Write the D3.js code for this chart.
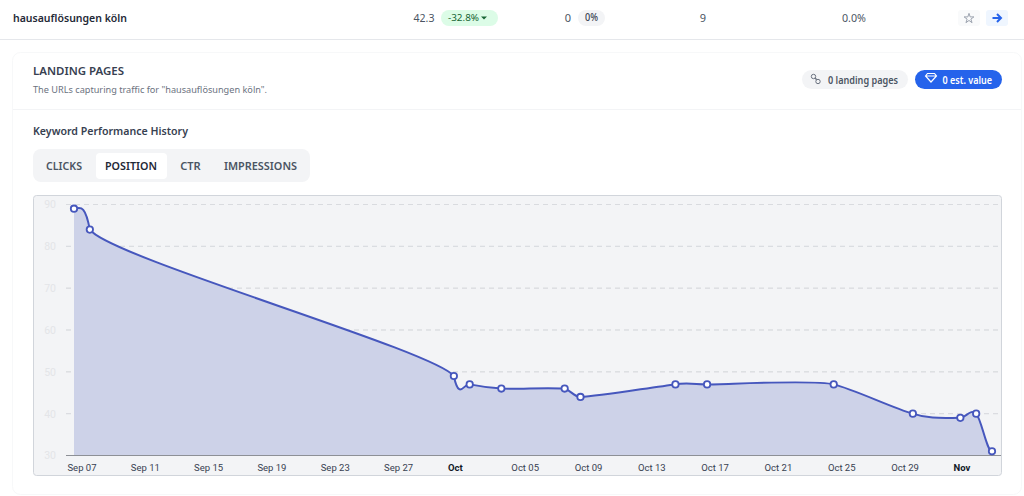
<!DOCTYPE html>
<html>
<head>
<meta charset="utf-8">
<script src="https://cdn.jsdelivr.net/npm/d3@7"></script>
<style>
  html, body { margin: 0; padding: 0; background: #fff; }
  svg { display: block; }
  text { font-family: "Noto Sans", sans-serif; }
  .axis text { font-family: Roboto, sans-serif; }
</style>
</head>
<body>
<div id="chart"></div>
<script>
// section 1: the data
const pointDates = ['2023-09-07', '2023-09-08', '2023-10-01', '2023-10-02', '2023-10-04', '2023-10-08', '2023-10-09',
    '2023-10-15', '2023-10-17', '2023-10-25', '2023-10-30', '2023-11-02', '2023-11-03', '2023-11-04'];
const positions = [89, 84, 49, 47, 46, 46, 44, 47, 47, 47, 40, 39, 40, 31];

const tickDates = ['2023-09-07', '2023-09-11', '2023-09-15', '2023-09-19', '2023-09-23', '2023-09-27', '2023-10-01',
    '2023-10-05', '2023-10-09', '2023-10-13', '2023-10-17', '2023-10-21', '2023-10-25', '2023-10-29', '2023-11-02'];
const tickLabels = ['Sep 07', 'Sep 11', 'Sep 15', 'Sep 19', 'Sep 23', 'Sep 27', 'Oct',
    'Oct 05', 'Oct 09', 'Oct 13', 'Oct 17', 'Oct 21', 'Oct 25', 'Oct 29', 'Nov'];
const yTicks = [30, 40, 50, 60, 70, 80, 90];
const tabLabels = ['CLICKS', 'POSITION', 'CTR', 'IMPRESSIONS'];
const tabX = [64, 131, 190.5, 260.5];
const tabWidths = [36, 52, 20.5, 73];

const parseDate = d3.utcParse('%Y-%m-%d');

// section 2: the svg canvas and the page furniture around the chart
const svg = d3.select('#chart').append('svg').attr('width', 1024).attr('height', 496);

function label(x, y, str, size, color, weight, anchor, fitWidth){
    const t = svg.append('text')
        .attr('x', x).attr('y', y)
        .attr('dy', '0.35em')
        .attr('font-size', size)
        .attr('font-weight', weight || 400)
        .attr('fill', color)
        .attr('text-anchor', anchor || 'start')
        .text(str);
    if (fitWidth) t.attr('textLength', fitWidth).attr('lengthAdjust', 'spacingAndGlyphs');
    return t;
}

function box(x, y, w, h, r, fill, stroke){
    return svg.append('rect')
        .attr('x', x).attr('y', y)
        .attr('width', w).attr('height', h)
        .attr('rx', r)
        .attr('fill', fill)
        .attr('stroke', stroke || 'none');
}

// keyword row
label(13, 18, 'hausauflösungen köln', 11.5, '#1f2937', 600, 'start', 114);
label(434.5, 18, '42.3', 11, '#4b5563', 400, 'end', 21);
box(441, 10, 57, 16, 8, '#dcfce7');
label(448, 18, '-32.8%', 9.8, '#166534', 400, 'start', 31);
svg.append('path').attr('d', 'M481 16.5h6l-3 3z').attr('fill', '#166534');
label(568, 18, '0', 11, '#4b5563', 400, 'middle');
box(578, 10, 27, 16, 8, '#f3f4f6');
label(591.5, 18, '0%', 9.8, '#374151', 500, 'middle', 13);
label(703, 18, '9', 11, '#4b5563', 400, 'middle');
label(854, 18, '0.0%', 11, '#4b5563', 400, 'middle', 24);
box(958, 10, 22, 16, 3, '#f9fafb');
svg.append('path')
    .attr('d', d3.symbol(d3.symbolStar, 30)())
    .attr('transform', 'translate(969,18.5)')
    .attr('fill', 'none').attr('stroke', '#9ca3af').attr('stroke-width', 1);
box(986, 10, 22, 16, 3, '#eff6ff');
svg.append('path')
    .attr('d', 'M992.5 18h7.500M997 14l4 4l-4 4')
    .attr('fill', 'none').attr('stroke', '#2563eb').attr('stroke-width', 2);
svg.append('line').attr('x1', 0).attr('x2', 1024).attr('y1', 39.5).attr('y2', 39.5).attr('stroke', '#e5e7eb');

// card
box(12.5, 52.5, 1009, 442, 8, '#fff', '#f7f8f9');
svg.append('line').attr('x1', 13).attr('x2', 1021).attr('y1', 109.5).attr('y2', 109.5).attr('stroke', '#f3f4f6');
label(33, 71, 'LANDING PAGES', 11.5, '#374151', 600, 'start', 91);
label(33, 90, 'The URLs capturing traffic for "hausauflösungen köln".', 9.5, '#6b7280', 400, 'start', 234);

box(802, 70, 106, 19, 9.5, '#f3f4f6');
svg.append('path')
    .attr('d', 'M813 76l5 5')
    .attr('stroke', '#6b7280').attr('stroke-width', 1.4);
svg.selectAll('circle.link').data([[813.5, 76.5], [818, 81.5]]).enter().append('circle')
    .attr('class', 'link')
    .attr('cx', d => d[0]).attr('cy', d => d[1]).attr('r', 2.2)
    .attr('fill', '#f3f4f6').attr('stroke', '#6b7280');
label(828, 80, '0 landing pages', 10, '#4b5563', 600, 'start', 70);

box(915, 70, 87, 19, 9.5, '#2563eb');
svg.append('path')
    .attr('d', 'M925.500 76l2-2.500h7l2 2.500l-5.500 6zM925.500 76h11')
    .attr('fill', 'none').attr('stroke', '#fff').attr('stroke-width', 1.2);
label(942.5, 80, '0 est. value', 10, '#fff', 600, 'start', 49.5);

label(33, 131, 'Keyword Performance History', 11.5, '#374151', 600, 'start', 155);

box(33, 149, 277, 33, 8, '#f3f4f6');
box(96, 153, 71, 26, 4, '#fff');
tabLabels.forEach((t, i) => {
    label(tabX[i], 166, t, 11.5, t === 'POSITION' ? '#1f2937' : '#4b5563', 600, 'middle', tabWidths[i]);
});

// section 3: the chart itself
box(33.5, 195.5, 968, 280, 3, '#f3f4f6', '#d1d5db');

const xScale = d3.scaleUtc()
    .domain([parseDate(pointDates[0]), parseDate(pointDates[pointDates.length - 1])])
    .range([74, 992]);
const yScale = d3.scaleLinear().domain([30, 90]).range([455.5, 204.5]);

const series = pointDates.map((d, i) => ({date: parseDate(d), value: positions[i]}));

// spline the original uses: the y tangent ignores how far apart the points are,
// so it overshoots right after the long drop. d3 has no curve that does this.
function SlopeSpline(context){
    this._context = context;
}
SlopeSpline.prototype = {
    areaStart(){ this._line = 0; },
    areaEnd(){ this._line = NaN; },
    lineStart(){ this._pts = []; },
    point(x, y){ this._pts.push([+x, +y]); },
    lineEnd(){
        const p = this._pts, n = p.length, c = this._context;
        if (this._line) c.lineTo(p[0][0], p[0][1]);
        else c.moveTo(p[0][0], p[0][1]);
        for (let i = 0; i < n - 1; i++){
            const dx = p[i + 1][0] - p[i][0];
            const reach = Math.sign(dx) * Math.min(Math.abs(dx) / 3, 20);
            const before = i > 0 ? (p[i + 1][1] - p[i - 1][1]) / 6 : 0;
            const after = i < n - 2 ? (p[i + 2][1] - p[i][1]) / 6 : 0;
            c.bezierCurveTo(p[i][0] + reach, p[i][1] + before,
                p[i + 1][0] - reach, p[i + 1][1] - after,
                p[i + 1][0], p[i + 1][1]);
        }
        if (this._line || (this._line !== 0 && n === 1)) c.closePath();
        this._line = 1 - this._line;
    }
};
const curve = context => new SlopeSpline(context);

const grid = svg.append('g');
grid.selectAll('line').data(yTicks.slice(1)).enter().append('line')
    .attr('x1', 66).attr('x2', 1001)
    .attr('y1', d => yScale(d)).attr('y2', d => yScale(d))
    .attr('stroke', '#d9dbdf')
    .attr('stroke-dasharray', '5 4');

const area = d3.area()
    .x(d => xScale(d.date))
    .y0(yScale(30))
    .y1(d => yScale(d.value))
    .curve(curve);
svg.append('path').datum(series).attr('d', area).attr('fill', '#cdd2e8');

// dashes show through the fill
grid.clone(true).attr('opacity', 0.6);

const line = d3.line()
    .x(d => xScale(d.date))
    .y(d => yScale(d.value))
    .curve(curve);
svg.append('path').datum(series).attr('d', line)
    .attr('fill', 'none').attr('stroke', '#4657bd').attr('stroke-width', 2);

svg.append('line').attr('x1', 66).attr('x2', 1001)
    .attr('y1', yScale(30)).attr('y2', yScale(30))
    .attr('stroke', '#8d9096');

svg.selectAll('circle.point').data(series).enter().append('circle')
    .attr('class', 'point')
    .attr('cx', d => xScale(d.date))
    .attr('cy', d => yScale(d.value))
    .attr('r', 3.2)
    .attr('fill', '#fff')
    .attr('stroke', '#4657bd')
    .attr('stroke-width', 1.8);

const bottomAxis = d3.axisBottom(xScale)
    .tickValues(tickDates.map(parseDate))
    .tickSize(0)
    .tickFormat((d, i) => tickLabels[i]);
const xAxis = svg.append('g').attr('class', 'axis')
    .attr('transform', `translate(0, ${yScale(30)})`)
    .call(bottomAxis);
xAxis.select('.domain').remove();
xAxis.selectAll('text')
    .attr('y', 0)
    .attr('dy', '15.500')
    .attr('dx', (d, i) => tickLabels[i].length > 3 ? 7.500 : 1)
    .attr('font-size', 9.500)
    .attr('font-weight', (d, i) => tickLabels[i].length > 3 ? 400 : 700)
    .attr('fill', (d, i) => tickLabels[i].length > 3 ? '#374151' : '#111827');

const leftAxis = d3.axisLeft(yScale).tickValues(yTicks).tickSize(0);
const yAxis = svg.append('g').attr('class', 'axis')
    .attr('transform', 'translate(56, 0)')
    .call(leftAxis);
yAxis.select('.domain').remove();
yAxis.selectAll('text')
    .attr('x', 0)
    .attr('font-size', 10.500)
    .attr('fill', '#e3e5e8');
</script>
</body>
</html>
